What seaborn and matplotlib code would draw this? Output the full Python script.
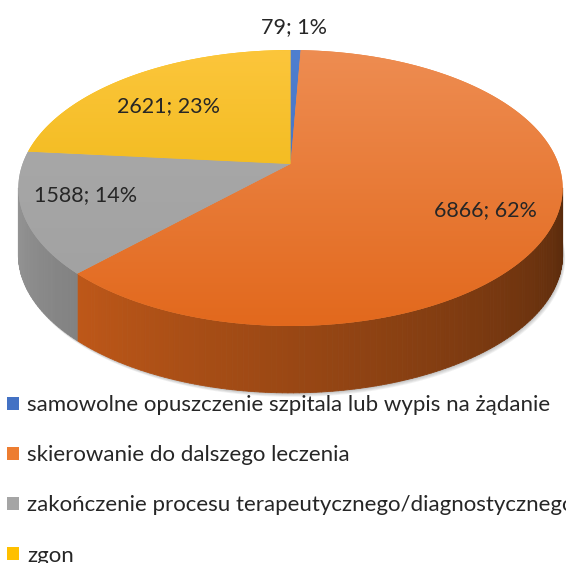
import numpy as np
import seaborn as sns
import matplotlib.pyplot as plt
from matplotlib import transforms as mtransforms
from matplotlib.path import Path
from matplotlib.collections import PolyCollection
from matplotlib.patches import Patch
from matplotlib.colors import to_rgb

# data
categories = [
    "samowolne opuszczenie szpitala lub wypis na żądanie",
    "skierowanie do dalszego leczenia",
    "zakończenie procesu terapeutycznego/diagnostycznego",
    "zgon",
]
counts = [79, 6866, 1588, 2621]

# styling
top_colors = ["#4472C4", "#ED7D31", "#A5A5A5", "#FFC000"]
top_grad = [("#4F7FD0", "#3E68B8"), ("#EE8D52", "#E2681C"),
            ("#ABABAB", "#A0A0A0"), ("#FCC63C", "#E8B000")]
side_left = [(60, 100, 170), (220, 101, 28), (150, 150, 150), (215, 165, 0)]
side_right = [(25, 45, 85), (88, 42, 12), (60, 60, 60), (100, 75, 0)]
label_r = [1.25, 0.76, 0.77, 0.68]
label_shift = [0.6, -1.9, -3.3, 4.0]

sns.set_theme(style="white")
plt.rcParams["font.family"] = ["Lato", "DejaVu Sans"]

K = 0.174      # perspective of the tilted top face
DEPTH = 0.5    # pie thickness in y units
PX_X, PX_Y = 268.0, 133.8   # pixels per data unit


class Tilt(mtransforms.Transform):
    input_dims = output_dims = 2
    is_separable = False
    has_inverse = False

    def transform_non_affine(self, values):
        values = np.asarray(values, dtype=float)
        return values / (1 + K * values[:, 1:2])

    def transform_path_non_affine(self, path):
        pts = []
        for seg, code in path.iter_bezier():
            n = 1 if seg.degree == 0 else 40
            pts.append(seg(np.linspace(0, 1, n)))
        return Path(self.transform_non_affine(np.concatenate(pts)))


tilt = Tilt()


def rim(t):
    return tilt.transform(np.column_stack([np.cos(t), np.sin(t)]))


fig = plt.figure(figsize=(5.66, 5.63), dpi=100)
ax = fig.add_axes([0, 0, 1, 1])

wedges, _ = ax.pie(counts, colors=top_colors, startangle=90, counterclock=False,
                   wedgeprops=dict(linewidth=0))
for w in wedges:
    w.set_transform(tilt + ax.transData)
    w.set_zorder(3)

# soft shadow under the pie
t = np.linspace(0, 2 * np.pi, 361)
base = rim(t) - [0, DEPTH]
for off in range(1, 6):
    ax.fill(base[:, 0] + off * 0.5 / PX_X, base[:, 1] - off * 0.8 / PX_Y,
            color="0.25", alpha=0.07, lw=0, zorder=1)

# visible side wall (front half of the disc)
for i, w in enumerate(wedges):
    for shift in (-360, 0, 360):
        a = max(w.theta1 + shift, 190)
        b = min(w.theta2 + shift, 350)
        if a >= b:
            continue
        tt = np.linspace(a, b, int(b - a) + 2)
        top = rim(np.radians(tt))
        s = ((tt[:-1] + tt[1:]) / 2 - 190) / 160
        polys = [[top[j], top[j + 1], top[j + 1] - [0, DEPTH], top[j] - [0, DEPTH]]
                 for j in range(len(tt) - 1)]
        c0 = np.array(side_left[i]) / 255
        c1 = np.array(side_right[i]) / 255
        cols = c0 + (c1 - c0) * s[:, None]
        ax.add_collection(PolyCollection(polys, facecolors=cols, edgecolors=cols,
                                         linewidths=0.6, zorder=2))

# shading on the top face
g = np.linspace(0, 1, 256)[:, None]
for w, (c0, c1) in zip(wedges, top_grad):
    img = (np.array(to_rgb(c0)) * (1 - g) + np.array(to_rgb(c1)) * g)[:, None, :]
    im = ax.imshow(img, extent=(-1.1, 1.1, -1.25, 0.87), aspect="auto",
                   interpolation="bilinear", zorder=3.5)
    im.set_clip_path(w)

# data labels
total = sum(counts)
for w, c, r, d in zip(wedges, counts, label_r, label_shift):
    a = np.radians((w.theta1 + w.theta2) / 2 + d)
    x, y = tilt.transform([[r * np.cos(a), r * np.sin(a)]])[0]
    ax.text(x, y, f"{c}; {round(100 * c / total)}%", ha="center", va="center",
            fontsize=15.5, color="#262626", zorder=6)

ax.set_aspect("auto")
ax.set_xlim(-290.5 / PX_X, 275.5 / PX_X)
ax.set_ylim(-(563 - 164) / PX_Y, 164 / PX_Y)
ax.axis("off")

handles = [Patch(facecolor=c, edgecolor="none") for c in top_colors]
fig.legend(handles, categories, loc="upper left", bbox_to_anchor=(7 / 566, 1 - 395 / 563),
           frameon=False, fontsize=16, labelcolor="#262626",
           handlelength=0.54, handleheight=0.54, handletextpad=0.36,
           labelspacing=1.36, borderpad=0, borderaxespad=0)

fig.savefig("out.png", dpi=100)
